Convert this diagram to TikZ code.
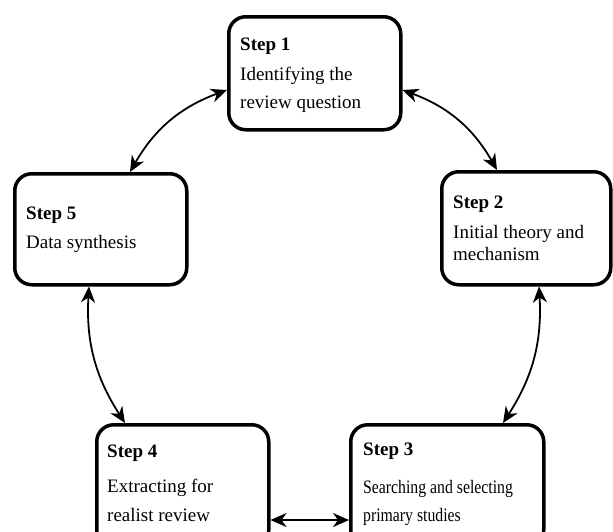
\documentclass[tikz,border=0pt]{standalone}
\usepackage{fontspec}
\setmainfont{Liberation Serif}
\usepackage{graphicx}
\usetikzlibrary{arrows.meta}

\tikzset{
  stepbox/.style={draw, line width=3.5pt, rounded corners=17pt, anchor=north west, inner sep=0pt},
  steptext/.style={anchor=base west, inner sep=0pt, font=\fontsize{19}{23}\selectfont},
  steptitle/.style={anchor=base west, inner sep=0pt, font=\fontsize{19}{23}\selectfont\bfseries},
  cyclearrow/.style={{Stealth[length=16pt,width=14pt,inset=5pt]}-{Stealth[length=16pt,width=14pt,inset=5pt]}, line width=1.8pt}
}

\begin{document}
\begin{tikzpicture}[x=1pt, y=-1pt]
    \useasboundingbox (0,0) rectangle (613,531);
    \clip (0,0) rectangle (613,531);

    % Draw the boxes
    \node[stepbox, minimum width=172pt, minimum height=113pt] (s1) at (227,15) {};
    \node[stepbox, minimum width=169pt, minimum height=113pt] (s2) at (440,170) {};
    \node[stepbox, minimum width=193pt, minimum height=122pt] (s3) at (349,423) {};
    \node[stepbox, minimum width=172pt, minimum height=122pt] (s4) at (95,423) {};
    \node[stepbox, minimum width=172pt, minimum height=111pt] (s5) at (13,172) {};

    % Draw the labels
    \node[steptitle] (t1) at (240,50) {Step 1};
    \node[steptext] (t1a) at (240,80) {Identifying the};
    \node[steptext] (t1b) at (240,108) {review question};

    \node[steptitle] (t2) at (453,208) {Step 2};
    \node[steptext] (t2a) at (453,238) {Initial theory and};
    \node[steptext] (t2b) at (453,260) {mechanism};

    \node[steptitle] (t3) at (363,455) {Step 3};
    \node[steptext] (t3a) at (363,493) {\scalebox{0.83}[1]{Searching and selecting}};
    \node[steptext] (t3b) at (363,521) {\scalebox{0.83}[1]{primary studies}};

    \node[steptitle] (t4) at (107,457) {Step 4};
    \node[steptext] (t4a) at (107,492) {Extracting for};
    \node[steptext] (t4b) at (107,521) {realist review};

    \node[steptitle] (t5) at (26,219) {Step 5};
    \node[steptext] (t5a) at (26,248) {Data synthesis};

    % Draw the arrows
    \draw[cyclearrow] ([yshift=-75pt]s1.north east) to[bend left=20] ([xshift=57pt]s2.north west);
    \draw[cyclearrow] ([xshift=99pt]s2.south west) to[bend left=18] ([xshift=154pt]s3.north west);
    \draw[cyclearrow] ([yshift=-97pt]s4.north east) -- ([yshift=-97pt]s3.north west);
    \draw[cyclearrow] ([xshift=76pt]s5.south west) to[bend right=18] ([xshift=30pt]s4.north west);
    \draw[cyclearrow] ([yshift=-75pt]s1.north west) to[bend right=20] ([xshift=117pt]s5.north west);
\end{tikzpicture}
\end{document}
